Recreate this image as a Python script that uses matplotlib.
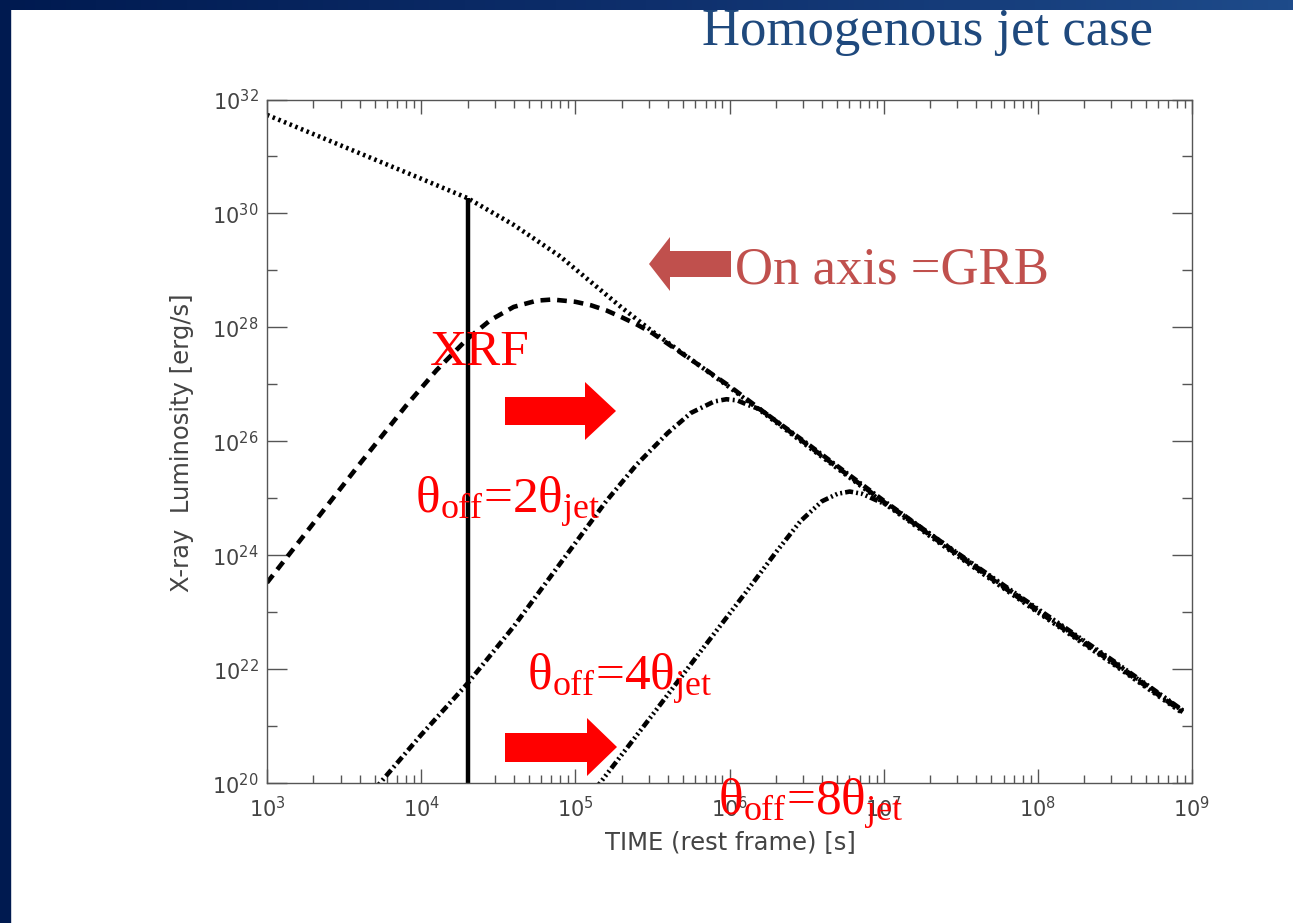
import numpy as np
import matplotlib.pyplot as plt
from matplotlib.patches import Polygon, Rectangle
from matplotlib.colors import LinearSegmentedColormap
from matplotlib.ticker import FixedLocator, NullFormatter

plt.rcParams['lines.scale_dashes'] = False
plt.rcParams['mathtext.fontset'] = 'custom'
plt.rcParams['mathtext.rm'] = 'Liberation Serif'
plt.rcParams['mathtext.it'] = 'Liberation Serif:italic'

# log10 time [s] / log10 luminosity [erg/s]
t_on = [3.0, 3.5, 4.0, 4.3, 4.6, 4.9, 5.1, 5.3, 5.5, 6.0, 6.5, 7.0, 7.5, 8.0, 8.5, 8.94]
L_on = [31.73, 31.17, 30.61, 30.27, 29.80, 29.25, 28.80, 28.35, 27.93, 26.95, 25.93, 24.92, 23.95, 23.00, 22.07, 21.23]

t_2 = [3.0, 3.3, 3.6, 3.9, 4.1, 4.3, 4.45, 4.6, 4.75, 4.85, 5.0, 5.1, 5.2, 5.3, 5.4, 5.5,
       6.0, 6.5, 7.0, 7.5, 8.0, 8.5, 8.94]
L_2 = [23.52, 24.56, 25.60, 26.62, 27.25, 27.80, 28.13, 28.36, 28.47, 28.49, 28.45, 28.39, 28.30, 28.18, 28.05, 27.90,
       26.97, 25.95, 24.94, 23.97, 23.02, 22.09, 21.25]

t_4 = [3.70, 4.0, 4.3, 4.6, 4.9, 5.2, 5.4, 5.6, 5.75, 5.9, 5.98, 6.05, 6.12, 6.2,
       6.5, 7.0, 7.5, 8.0, 8.5, 8.94]
L_4 = [19.90, 20.85, 21.75, 22.75, 23.85, 24.95, 25.60, 26.15, 26.50, 26.70, 26.74, 26.72, 26.64, 26.56,
       25.97, 24.96, 23.99, 23.04, 22.11, 21.27]

t_8 = [5.13, 5.5, 5.8, 6.1, 6.3, 6.46, 6.6, 6.7, 6.78, 6.86, 6.95, 7.05,
       7.5, 8.0, 8.5, 8.94]
L_8 = [19.90, 21.20, 22.27, 23.33, 24.05, 24.60, 24.95, 25.08, 25.12, 25.08, 24.97, 24.85,
       24.00, 23.06, 22.13, 21.28]

xrf_t = 2.0e4
xrf_top = 1.86e30

x_ticks = [3, 4, 5, 6, 7, 8, 9]
y_ticks = [20, 22, 24, 26, 28, 30, 32]
y_minor = [21, 23, 25, 27, 29, 31]

W, H = 1293, 923
fig = plt.figure(figsize=(W / 100, H / 100), dpi=100)
fig.patch.set_facecolor('white')

# slide decoration: navy strip on the left, gradient strip on top
fig.patches.append(Rectangle((0, 0), 10 / W, 1, transform=fig.transFigure,
                             color='#001a50', zorder=0))
bar = fig.add_axes([0, 1 - 10 / H, 1, 10 / H])
cmap = LinearSegmentedColormap.from_list('bar', ['#001a50', '#0e2f6c', '#1e4b8a'])
bar.imshow(np.linspace(0, 1, 256)[None, :], aspect='auto', cmap=cmap, extent=[0, 1, 0, 1])
bar.set_axis_off()

ax = fig.add_axes([267 / W, 1 - 783.3 / H, (1192 - 267) / W, (783.3 - 99.5) / H])

lw = 3.3
ax.plot(10 ** np.array(t_on), 10 ** np.array(L_on), color='black', lw=lw,
        linestyle=(0, (1.8, 2.6)))
ax.plot(10 ** np.array(t_2), 10 ** np.array(L_2), color='black', lw=lw,
        linestyle=(0, (7, 5)))
ax.plot(10 ** np.array(t_4), 10 ** np.array(L_4), color='black', lw=lw,
        linestyle=(0, (5.8, 2.5, 1.4, 2.5)))
ax.plot(10 ** np.array(t_8), 10 ** np.array(L_8), color='black', lw=lw,
        linestyle=(0, (5.8, 2.2, 1.4, 2.2, 1.4, 2.2, 1.4, 2.2)))
ax.plot([xrf_t, xrf_t], [1e20, xrf_top], color='black', lw=3.2, solid_capstyle='butt')

ax.set_xscale('log')
ax.set_yscale('log')
ax.set_xlim(1e3, 1e9)
ax.set_ylim(1e20, 1e32)

gray = '#555555'
ax.xaxis.set_major_locator(FixedLocator([10.0 ** k for k in x_ticks]))
ax.set_xticklabels([r'$\mathregular{10^{%d}}$' % k for k in x_ticks])
ax.yaxis.set_major_locator(FixedLocator([10.0 ** k for k in y_ticks]))
ax.set_yticklabels([r'$\mathregular{10^{%d}}$' % k for k in y_ticks])
ax.yaxis.set_minor_locator(FixedLocator([10.0 ** k for k in y_minor]))
ax.yaxis.set_minor_formatter(NullFormatter())

ax.tick_params(which='both', direction='in', top=True, right=True, color=gray,
               labelcolor='#444444', labelsize=15, width=1)
ax.tick_params(axis='x', which='major', length=10, pad=9)
ax.tick_params(axis='x', which='minor', length=5.5)
ax.tick_params(axis='y', which='major', length=14.5, pad=6)
ax.tick_params(axis='y', which='minor', length=7.2)
for s in ax.spines.values():
    s.set_color(gray)
    s.set_linewidth(1.0)

fig.text(730 / W, 1 - 842 / H, 'TIME (rest frame) [s]', ha='center', va='center',
         fontsize=17.5, color='#444444')
fig.text(182 / W, 1 - 443 / H, 'X-ray  Luminosity [erg/s]', ha='center', va='center',
         rotation=90, fontsize=17.5, color='#444444')

fig.text(1153 / W, 1 - 45 / H, 'Homogenous jet case', ha='right', va='baseline',
         family='Liberation Serif', fontsize=38, color='#1f497d')


def arrow(pts, color):
    verts = [(x / W, 1 - y / H) for x, y in pts]
    fig.patches.append(Polygon(verts, closed=True, transform=fig.transFigure,
                               facecolor=color, edgecolor='none', zorder=5))


arrow([(505, 397), (585, 397), (585, 382), (616, 411), (585, 440), (585, 425), (505, 425)], '#ff0000')
arrow([(505, 733), (587, 733), (587, 718), (617, 747), (587, 776), (587, 762), (505, 762)], '#ff0000')
arrow([(731, 251), (670, 251), (670, 237), (649, 264), (670, 291), (670, 277), (731, 277)], '#c0504d')

serif = dict(family='Liberation Serif', va='baseline', ha='left', zorder=6)
fig.text(735 / W, 1 - 283 / H, 'On axis =GRB', fontsize=38, color='#c0504d', **serif)
fig.text(430 / W, 1 - 365 / H, 'XRF', fontsize=37, color='#ff0000', **serif)
fig.text(415 / W, 1 - 513 / H, r'θ$_\mathrm{off}$=2θ$_\mathrm{jet}$', fontsize=37, color='#ff0000', **serif)
fig.text(527 / W, 1 - 690 / H, r'θ$_\mathrm{off}$=4θ$_\mathrm{jet}$', fontsize=37, color='#ff0000', **serif)
fig.text(718 / W, 1 - 815 / H, r'θ$_\mathrm{off}$=8θ$_\mathrm{jet}$', fontsize=37, color='#ff0000', **serif)

fig.savefig('out.png', dpi=100)
